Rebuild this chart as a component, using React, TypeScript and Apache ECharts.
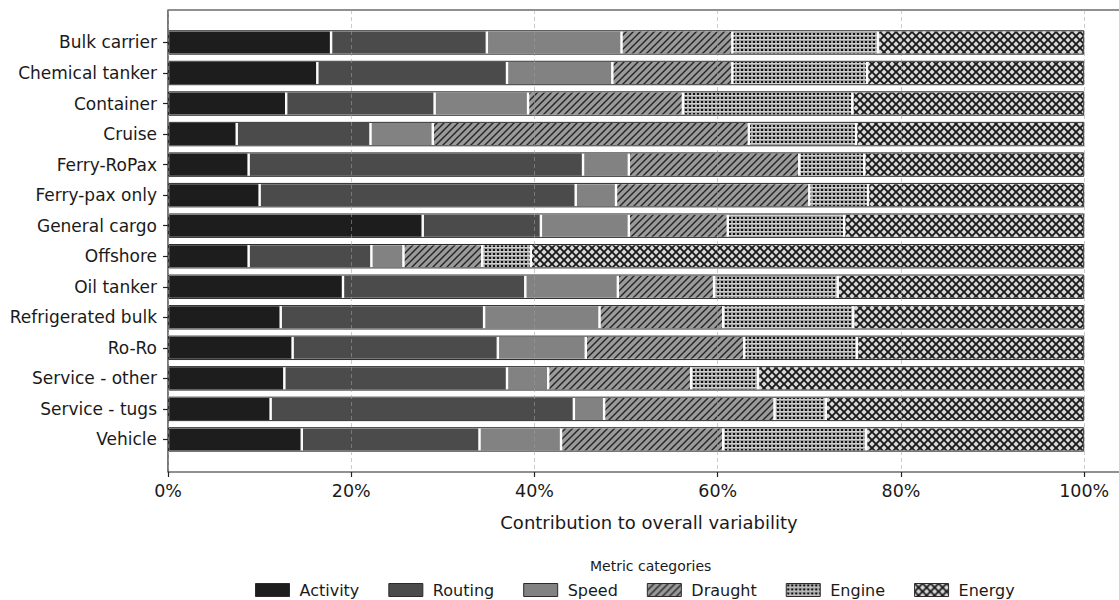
import React, { useEffect, useRef } from 'react';
import * as echarts from 'echarts';

const categories = ['Bulk carrier', 'Chemical tanker', 'Container', 'Cruise', 'Ferry-RoPax', 'Ferry-pax only', 'General cargo', 'Offshore', 'Oil tanker', 'Refrigerated bulk', 'Ro-Ro', 'Service - other', 'Service - tugs', 'Vehicle'];
const activity = [17.8, 16.3, 12.9, 7.5, 8.8, 10.0, 27.8, 8.8, 19.1, 12.3, 13.6, 12.7, 11.2, 14.6];
const routing = [17.0, 20.7, 16.2, 14.6, 36.5, 34.5, 12.9, 13.4, 19.9, 22.2, 22.4, 24.3, 33.1, 19.4];
const speed = [14.7, 11.5, 10.2, 6.8, 5.0, 4.4, 9.6, 3.5, 10.1, 12.6, 9.6, 4.5, 3.3, 8.9];
const draught = [12.1, 13.1, 16.9, 34.5, 18.6, 21.1, 10.8, 8.6, 10.5, 13.5, 17.3, 15.6, 18.6, 17.7];
const engine = [15.9, 14.7, 18.5, 11.7, 7.1, 6.4, 12.7, 5.3, 13.5, 14.2, 12.3, 7.3, 5.6, 15.6];
const energy = [22.5, 23.7, 25.3, 24.9, 24.0, 23.6, 26.2, 60.4, 26.9, 25.2, 24.8, 35.6, 28.2, 23.8];
const metricNames = ['Activity', 'Routing', 'Speed', 'Draught', 'Engine', 'Energy'];
const xAxisMax = 105;
const xTickStep = 20;

const FONT = 'DejaVu Sans';

function makePattern(kind: string): any {
  const s = kind === 'draught' ? 7 : kind === 'engine' ? 4 : 8;
  const c = document.createElement('canvas');
  c.width = s;
  c.height = s;
  const g = c.getContext('2d') as CanvasRenderingContext2D;
  if (kind === 'draught') {
    g.fillStyle = '#9a9a9a';
    g.fillRect(0, 0, s, s);
    g.strokeStyle = '#232323';
    g.lineWidth = 1.4;
    g.beginPath();
    for (const k of [-s, 0, s]) {
      g.moveTo(k - 1, s + 1);
      g.lineTo(k + s + 1, -1);
    }
    g.stroke();
  } else if (kind === 'engine') {
    g.fillStyle = '#a2a2a2';
    g.fillRect(0, 0, s, s);
    g.fillStyle = '#d2d2d2';
    g.fillRect(0, 3, s, 1);
    g.fillStyle = '#121212';
    g.fillRect(1, 1, 2, 2);
  } else {
    g.fillStyle = '#dadada';
    g.fillRect(0, 0, s, s);
    g.strokeStyle = '#1a1a1a';
    g.lineWidth = 1.9;
    g.beginPath();
    g.moveTo(-1, -1);
    g.lineTo(s + 1, s + 1);
    g.moveTo(-1, s + 1);
    g.lineTo(s + 1, -1);
    g.stroke();
  }
  return { image: c, repeat: 'repeat', imageWidth: s, imageHeight: s };
}

export default function App() {
  const ref = useRef<HTMLDivElement>(null);
  useEffect(() => {
    if (!ref.current) return;
    const chart = echarts.init(ref.current, null, { renderer: 'svg' });
    const values = [activity, routing, speed, draught, engine, energy];
    const fills: any[] = ['#1d1d1d', '#4b4b4b', '#828282', makePattern('draught'), makePattern('engine'), makePattern('energy')];
    const totals = categories.map((_, i) => values.reduce((a, arr) => a + arr[i], 0));

    const series: any[] = metricNames.map((name, k) => ({
      name,
      type: 'bar',
      stack: 'total',
      xAxisIndex: 1,
      yAxisIndex: 1,
      barWidth: '80%',
      barGap: '-100%',
      data: values[k],
      itemStyle: { color: fills[k], borderColor: '#ffffff', borderWidth: 1.2 },
      silent: true,
    }));
    series.push({
      name: 'outline',
      type: 'bar',
      stack: 'outline',
      xAxisIndex: 1,
      yAxisIndex: 1,
      barWidth: '80%',
      barGap: '-100%',
      data: totals,
      z: 3,
      itemStyle: { color: 'rgba(0,0,0,0)', borderColor: '#2b2b2b', borderWidth: 1 },
      silent: true,
    });

    chart.setOption({
      animation: false,
      backgroundColor: '#ffffff',
      textStyle: { fontFamily: FONT },
      grid: [
        { left: 168, top: 10, width: 962, height: 462, show: true, borderColor: '#222222', borderWidth: 1.2, backgroundColor: 'transparent' },
        { left: 168, top: 27.2, width: 962, height: 427.5 },
      ],
      xAxis: [
        {
          type: 'value', gridIndex: 0, min: 0, max: xAxisMax, interval: xTickStep, z: 5,
          axisLine: { show: false },
          axisTick: { show: true, length: 5, lineStyle: { color: '#222', width: 1.2 } },
          axisLabel: { fontSize: 17.5, color: '#1a1a1a', fontFamily: FONT, margin: 10, showMaxLabel: false, formatter: (v: number) => (v <= 100 ? v + '%' : '') },
          splitLine: { show: true, lineStyle: { color: 'rgba(160,160,160,0.55)', type: [4, 3], width: 1 } },
          name: 'Contribution to overall variability',
          nameLocation: 'middle',
          nameGap: 41,
          nameTextStyle: { fontSize: 18, color: '#1a1a1a', fontFamily: FONT },
        },
        { type: 'value', gridIndex: 1, min: 0, max: xAxisMax, show: false },
      ],
      yAxis: [
        { type: 'value', gridIndex: 0, show: false },
        {
          type: 'category', gridIndex: 1, inverse: true, data: categories,
          axisLine: { show: false },
          axisTick: { show: true, alignWithLabel: true, length: 5, lineStyle: { color: '#222', width: 1.2 } },
          axisLabel: { fontSize: 17, color: '#1a1a1a', fontFamily: FONT, margin: 11 },
        },
      ],
      legend: {
        data: metricNames,
        left: 250,
        top: 577,
        icon: 'rect',
        itemWidth: 34,
        itemHeight: 13,
        itemGap: 29,
        itemStyle: { borderColor: '#2b2b2b', borderWidth: 1 },
        textStyle: { fontSize: 16, color: '#1a1a1a', fontFamily: FONT, padding: [0, 0, 0, 5] },
        selectedMode: false,
      },
      graphic: [
        { type: 'text', left: 590, top: 559, style: { text: 'Metric categories', fontSize: 14, fill: '#1a1a1a', fontFamily: FONT } },
      ],
      series,
    });
    return () => chart.dispose();
  }, []);
  return (
    <div style={{ position: 'fixed', left: 0, top: 0, width: 1119, height: 600, overflow: 'hidden', background: '#fff' }}>
      <div ref={ref} style={{ width: 1160, height: 600 }} />
    </div>
  );
}
